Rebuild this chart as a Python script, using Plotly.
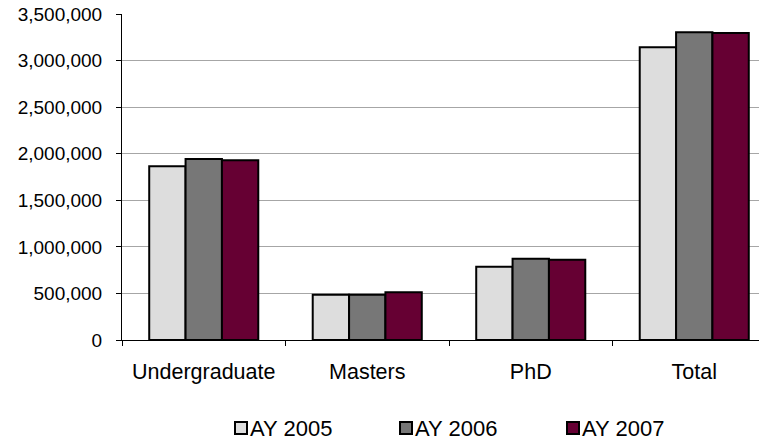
import plotly.graph_objects as go

categories = ["Undergraduate", "Masters", "PhD", "Total"]
ay_2005 = [1865000, 486000, 787000, 3142000]
ay_2006 = [1943000, 486000, 873000, 3303000]
ay_2007 = [1929000, 512000, 862000, 3296000]

series = [
    ("AY 2005", ay_2005, "#DDDDDD"),
    ("AY 2006", ay_2006, "#777777"),
    ("AY 2007", ay_2007, "#660033"),
]

W, H = 759, 441
L, R, T, B = 122, 0, 14, 101

fig = go.Figure()
for name, vals, color in series:
    fig.add_trace(go.Bar(
        x=categories,
        y=vals,
        name=name,
        marker=dict(color=color, line=dict(color="black", width=2)),
        showlegend=False,
    ))

# legend drawn by hand so the swatch sits right next to its label
legend_x = [235, 400, 567]  # px, left edge of each swatch
legend_y = 428              # px, centre line of the legend row
box = 12
for (name, _, color), lx in zip(series, legend_x):
    fig.add_shape(
        type="rect", xref="x domain", yref="y domain",
        x0=(lx - L) / (W - L - R), x1=(lx + box - L) / (W - L - R),
        y0=(H - B - legend_y - box / 2) / (H - T - B),
        y1=(H - B - legend_y + box / 2) / (H - T - B),
        fillcolor=color, line=dict(color="black", width=2),
    )
    fig.add_annotation(
        text=name, xref="x domain", yref="y domain",
        x=(lx + box + 1 - L) / (W - L - R),
        y=(H - B - legend_y) / (H - T - B),
        xanchor="left", yanchor="middle", showarrow=False,
        font=dict(size=22, color="black"),
    )

fig.update_layout(
    width=W,
    height=H,
    barmode="group",
    bargap=0.333,
    bargroupgap=0,
    plot_bgcolor="white",
    paper_bgcolor="white",
    font=dict(family="Arial, Liberation Sans, sans-serif", size=19, color="black"),
    margin=dict(l=L, r=R, t=T, b=B),
    xaxis=dict(
        type="category",
        range=[-0.5, 3.396],
        showline=True,
        linecolor="black",
        linewidth=1,
        ticks="outside",
        tickson="boundaries",
        ticklen=5,
        tickcolor="black",
        ticklabelstandoff=12,
        tickfont=dict(size=21.5),
        showgrid=False,
        automargin=False,
    ),
    yaxis=dict(
        range=[0, 3500000],
        dtick=500000,
        tickformat=",d",
        showline=True,
        linecolor="black",
        linewidth=1,
        ticks="outside",
        ticklen=5,
        tickcolor="black",
        ticklabelstandoff=10,
        showgrid=True,
        gridcolor="#A6A6A6",
        gridwidth=1,
        zeroline=False,
        automargin=False,
    ),
)

# drop the browser's default 8px body margin so the figure fills the window
fig.write_html(
    "out.html",
    config={"displayModeBar": False},
    post_script="document.body.style.margin = '0';",
)
